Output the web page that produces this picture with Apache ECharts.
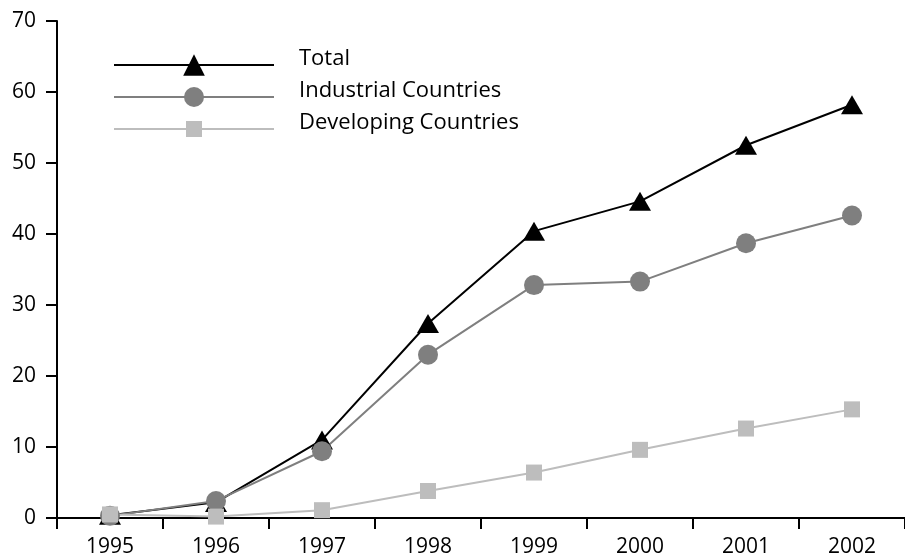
<!DOCTYPE html>
<html>
<head>
<meta charset="utf-8">
<script src="https://cdn.jsdelivr.net/npm/echarts@6/dist/echarts.min.js"></script>
<style>
html,body{margin:0;padding:0;background:#fff;}
#chart{width:905px;height:559px;}
</style>
</head>
<body>
<div id="chart"></div>
<script>
const categories = ['1995','1996','1997','1998','1999','2000','2001','2002'];
const seriesNames = ['Total','Industrial Countries','Developing Countries'];
const totalValues = [0.4, 2.2, 11.0, 27.4, 40.4, 44.6, 52.5, 58.2];
const industrialValues = [0.3, 2.4, 9.4, 23.0, 32.8, 33.3, 38.7, 42.6];
const developingValues = [0.5, 0.2, 1.1, 3.8, 6.4, 9.6, 12.6, 15.3];
const yTicks = [0, 10, 20, 30, 40, 50, 60, 70];

const FONT = 'Open Sans';
const legendTops = [43, 75, 107];
const legendIconHeights = [27, 25, 20];
const legends = seriesNames.map((name, i) => ({
  orient: 'vertical',
  left: 108,
  top: legendTops[i],
  itemWidth: 160,
  itemHeight: legendIconHeights[i],
  padding: 5,
  data: [name],
  formatter: '{name}\n',
  textStyle: {fontFamily: FONT, fontSize: 22, lineHeight: 12, color: '#000', padding: [0, 0, 0, 20]}
}));

const chart = echarts.init(document.getElementById('chart'));
chart.setOption({
  animation: false,
  backgroundColor: '#ffffff',
  grid: {left: 57, right: 0, top: 21, bottom: 41, containLabel: false},
  legend: legends,
  xAxis: {
    type: 'category',
    data: categories,
    boundaryGap: true,
    axisLine: {lineStyle: {color: '#000', width: 2}},
    axisTick: {show: true, length: 11, alignWithLabel: false, lineStyle: {color: '#000', width: 2}},
    axisLabel: {fontFamily: FONT, fontSize: 21, color: '#000', margin: 19}
  },
  yAxis: {
    type: 'value',
    min: yTicks[0],
    max: yTicks[yTicks.length - 1],
    interval: 10,
    axisLine: {show: true, lineStyle: {color: '#000', width: 2}},
    axisTick: {show: true, length: 11, lineStyle: {color: '#000', width: 2}},
    axisLabel: {fontFamily: FONT, fontSize: 21, color: '#000', margin: 21},
    splitLine: {show: false}
  },
  series: [
    {
      name: seriesNames[0], type: 'line', data: totalValues,
      symbol: 'triangle', symbolSize: [22, 19],
      lineStyle: {color: '#000', width: 2},
      itemStyle: {color: '#000'}
    },
    {
      name: seriesNames[1], type: 'line', data: industrialValues,
      symbol: 'circle', symbolSize: 20,
      lineStyle: {color: '#7f7f7f', width: 2},
      itemStyle: {color: '#7f7f7f'}
    },
    {
      name: seriesNames[2], type: 'line', data: developingValues,
      symbol: 'rect', symbolSize: 16,
      lineStyle: {color: '#bdbdbd', width: 2},
      itemStyle: {color: '#bdbdbd'}
    }
  ]
});
</script>
</body>
</html>
